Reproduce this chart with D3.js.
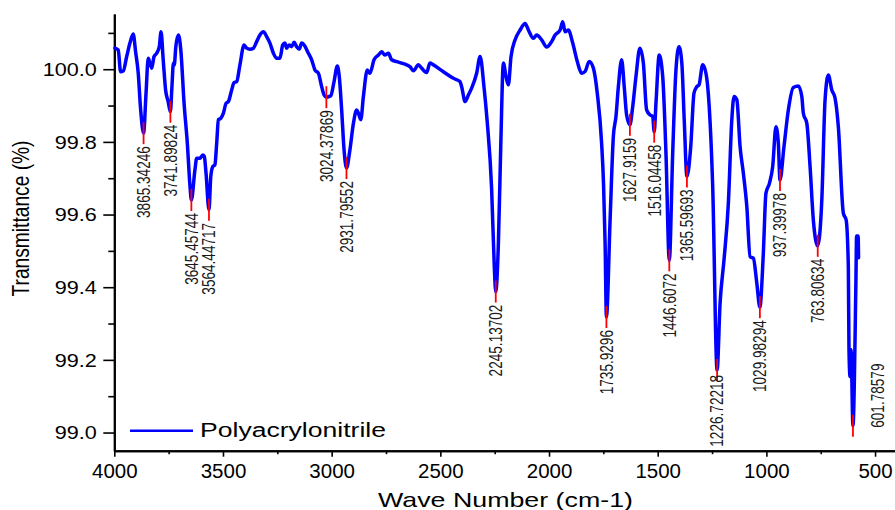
<!DOCTYPE html>
<html><head><meta charset="utf-8">
<script src="https://cdn.jsdelivr.net/npm/d3@7"></script>
<style>body{margin:0;background:#fff}svg{display:block}text{font-family:"Liberation Sans",Arial,sans-serif}</style>
</head><body><svg id="c" width="895" height="510"></svg>
<script>
const wavenumbers=[3997,3982,3971,3959,3943,3928,3913,3902,3890,3879,3865.34,3854,3844,3836,3828,3817,3805,3793,3785,3775,3764,3752,3741.90,3735,3728,3724,3717,3705,3694,3679,3664,3652,3645.46,3629,3621,3606,3593,3586,3578,3564.45,3556,3547,3537,3529,3521,3510,3498,3486,3475,3460,3449,3437,3422,3403,3391,3376,3360,3345,3330,3314,3299,3284,3268,3253,3238,3225,3215,3207,3196,3184,3173,3161,3149,3138,3127,3107,3092,3077,3061,3046,3035,3024.38,3004,2989,2974,2965,2954,2943,2931.80,2916,2900,2885,2877,2866,2854,2836,2824,2805,2785,2770,2755,2739,2724,2701,2678,2655,2640,2624,2601,2586,2563,2548,2532,2486,2440,2410,2402,2386,2371,2356,2333,2317,2299,2285,2264,2252,2245.14,2233,2222,2210,2198,2187,2175,2156,2133,2110,2095,2072,2057,2034,2011,1988,1972,1949,1937,1926,1911,1891,1870,1850,1834,1815,1796,1778,1758,1749,1742,1735.93,1719,1704,1692,1681,1666,1654,1643,1627.92,1615,1600,1582,1566,1551,1535,1523,1516.04,1508,1493,1477,1462,1446.61,1431,1416,1402,1389,1378,1365.60,1348,1333,1320,1310,1293,1278,1263,1247,1226.72,1213,1195,1175,1159,1149,1136,1121,1106,1090,1075,1060,1044,1029.98,1014,1002,986,971,956,945,937.40,919,899,876,853,837,830,814,799,784,763.81,745,730,715,699,684,669,646,633,623,620,615,610.5,601.79,588,585,578,576];
const transmittance=[100.058,100.053,99.993,99.995,100.035,100.072,100.097,100.048,99.990,99.890,99.824,99.934,100.030,100.017,100.003,100.035,100.044,100.062,100.103,100.026,99.943,99.910,99.883,99.950,100.017,100.012,100.062,100.094,100.053,99.906,99.796,99.680,99.640,99.723,99.755,99.755,99.764,99.760,99.714,99.613,99.705,99.732,99.737,99.796,99.861,99.865,99.879,99.906,99.911,99.943,99.963,99.966,100.012,100.067,100.058,100.055,100.058,100.076,100.094,100.103,100.090,100.072,100.044,100.030,100.030,100.067,100.072,100.058,100.067,100.062,100.074,100.062,100.055,100.072,100.067,100.044,100.026,99.998,99.989,99.952,99.929,99.923,99.927,99.966,100.009,99.980,99.888,99.778,99.728,99.778,99.851,99.888,99.879,99.861,99.925,99.998,99.989,100.026,100.039,100.048,100.039,100.044,100.026,100.021,100.017,100.012,100.007,99.996,100.012,100.003,99.991,100.017,100.012,99.993,99.975,99.966,99.952,99.911,99.929,99.948,99.989,100.035,99.950,99.860,99.670,99.460,99.388,99.520,99.790,100.017,99.980,99.957,100.034,100.081,100.108,100.126,100.108,100.085,100.094,100.081,100.061,100.076,100.094,100.108,100.131,100.103,100.108,100.072,100.021,99.989,99.994,100.021,100.003,99.934,99.796,99.680,99.521,99.318,99.586,99.815,99.870,99.952,100.026,99.952,99.874,99.847,99.897,99.980,100.058,100.017,99.888,99.874,99.870,99.828,99.906,100.039,99.980,99.769,99.474,99.769,99.998,100.062,100.017,99.861,99.705,99.787,99.934,99.952,99.957,100.012,99.989,99.897,99.677,99.172,99.356,99.475,99.631,99.861,99.925,99.916,99.787,99.714,99.622,99.484,99.480,99.411,99.345,99.494,99.659,99.686,99.732,99.842,99.796,99.695,99.787,99.888,99.950,99.954,99.925,99.879,99.851,99.732,99.585,99.514,99.640,99.916,99.984,99.943,99.920,99.842,99.604,99.585,99.457,99.228,99.154,99.228,99.019,99.420,99.541,99.541,99.481];
const peakWavenumbers=[3865.34,3741.90,3645.46,3564.45,3024.38,2931.80,2245.14,1735.93,1627.92,1516.04,1446.61,1365.60,1226.72,1029.98,937.40,763.81,601.79];
const peakLabels=["3865.34246","3741.89824","3645.45744","3564.44717","3024.37869","2931.79552","2245.13702","1735.9296","1627.9159","1516.04458","1446.6072","1365.59693","1226.72218","1029.98294","937.39978","763.80634","601.78579"];
const xTicks=[4000,3500,3000,2500,2000,1500,1000,500];
const xMinorTicks=[3750,3250,2750,2250,1750,1250,750];
const yTicks=[99.0,99.2,99.4,99.6,99.8,100.0];
const yMinorTicks=[99.1,99.3,99.5,99.7,99.9,100.1];
const seriesName="Polyacrylonitrile";
const xTitle="Wave Number (cm-1)";
const yTitle="Transmittance (%)";

const svg=d3.select("#c");
const x=d3.scaleLinear().domain([4000,400]).range([114.3,896.8]);
const y=d3.scaleLinear().domain([98.95,100.152]).range([450.7,14]);
const data=wavenumbers.map((w,i)=>({w,t:transmittance[i]}));
const axisY=y.range()[0];

// axes
const yAxis=svg.append("g").attr("transform","translate(114.3,0)")
  .call(d3.axisLeft(y).tickValues(yTicks).tickSize(11).tickSizeOuter(0).tickFormat(d3.format(".1f")));
const yMinor=svg.append("g").attr("transform","translate(114.3,0)")
  .call(d3.axisLeft(y).tickValues(yMinorTicks).tickSize(6).tickSizeOuter(0).tickFormat(""));
const xAxis=svg.append("g").attr("transform",`translate(0,${axisY})`)
  .call(d3.axisBottom(x).tickValues(xTicks).tickSize(6).tickSizeOuter(0).tickPadding(6.7).tickFormat(d3.format("d")));
const xMinor=svg.append("g").attr("transform",`translate(0,${axisY})`)
  .call(d3.axisBottom(x).tickValues(xMinorTicks).tickSize(3.5).tickSizeOuter(0).tickFormat(""));
[yAxis,yMinor,xAxis,xMinor].forEach(g=>{
  g.selectAll("path.domain").attr("stroke","#000").attr("stroke-width",2);
  g.selectAll(".tick line").attr("stroke","#000").attr("stroke-width",1.6);
});
yAxis.selectAll(".tick text").attr("x",null).attr("dy","0.35em")
  .attr("transform","translate(-17.6,0) scale(1.2,1)")
  .attr("font-size",18).attr("fill","#000").attr("font-family","Liberation Sans, Arial, sans-serif");
xAxis.selectAll(".tick text").attr("font-size",20.5).attr("fill","#000").attr("font-family","Liberation Sans, Arial, sans-serif");

// curve
svg.append("path").datum(data)
  .attr("fill","none").attr("stroke","#0000ff").attr("stroke-width",3.5)
  .attr("stroke-linejoin","round").attr("stroke-linecap","round")
  .attr("d",d3.line().x(d=>x(d.w)).y(d=>y(d.t)).curve(d3.curveMonotoneX));

// peak markers and labels
peakWavenumbers.forEach((pw,i)=>{
  const pt=d3.least(data,d=>Math.abs(d.w-pw));
  const px=x(pt.w), py=y(pt.t);
  svg.append("line").attr("x1",px).attr("x2",px).attr("y1",py-11).attr("y2",py+11)
    .attr("stroke","#ff0000").attr("stroke-width",1.8);
  const last=i===peakWavenumbers.length-1;
  const t=svg.append("text").attr("text-anchor","end").attr("dy","0.36em")
    .attr("font-size",13.6).attr("fill","#1a1a1a").text(peakLabels[i]);
  const len=t.node().getComputedTextLength();
  let lx=px, ly=py+13;
  if(last){lx=px+25; ly=y(99.19);}
  else if(ly+len>axisY-4){ly=axisY-4-len;}
  t.attr("transform",`translate(${lx},${ly}) scale(1.3,1) rotate(-90)`);
});

// legend
svg.append("line").attr("x1",130).attr("x2",193).attr("y1",430.7).attr("y2",430.7)
  .attr("stroke","#0000ff").attr("stroke-width",2.6);
svg.append("text").attr("x",200).attr("y",437).attr("font-size",20)
  .attr("textLength",186).attr("lengthAdjust","spacingAndGlyphs").attr("fill","#000").text(seriesName);

// axis titles
svg.append("text").attr("x",378).attr("y",506.5).attr("font-size",21)
  .attr("textLength",255).attr("lengthAdjust","spacingAndGlyphs").attr("fill","#000").text(xTitle);
svg.append("text").attr("transform","translate(29,218.5) scale(1.25,1) rotate(-90)")
  .attr("text-anchor","middle").attr("font-size",19.2).attr("fill","#000").text(yTitle);
</script></body></html>
